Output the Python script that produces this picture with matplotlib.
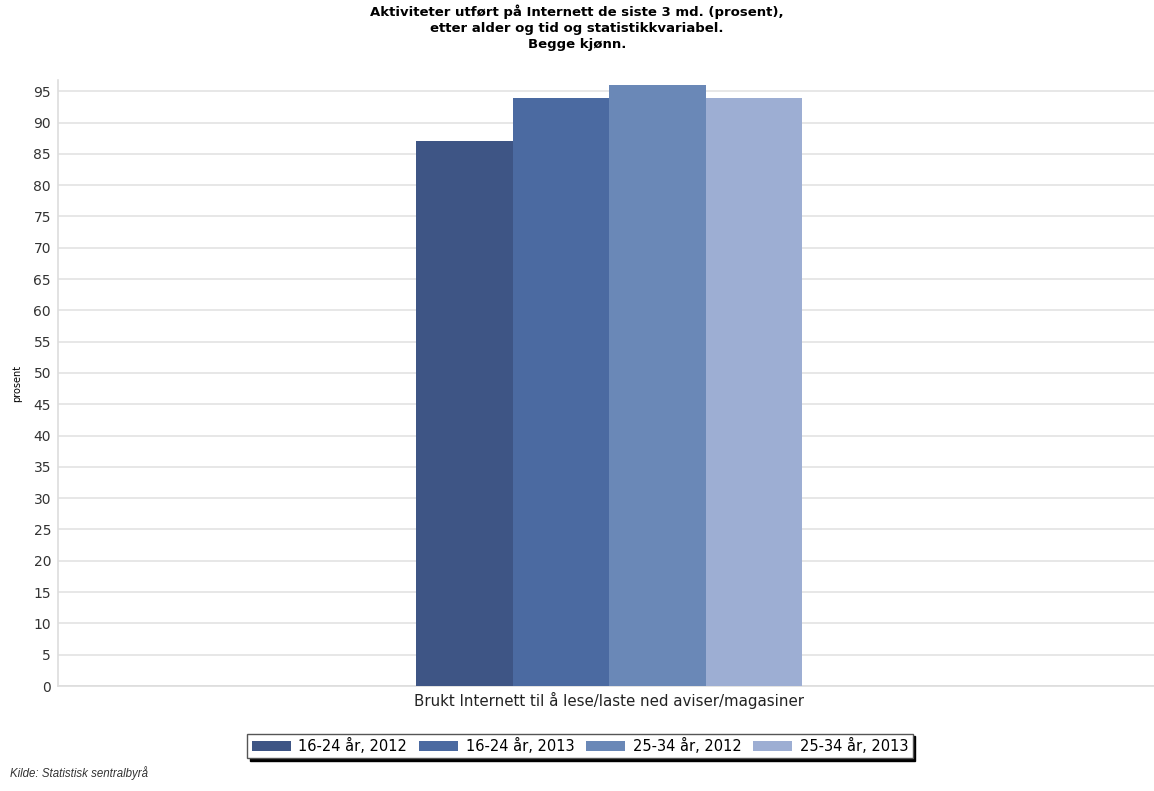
import matplotlib
matplotlib.use("Agg")
import matplotlib.pyplot as plt
import numpy as np

plt.rcParams['font.family'] = ['DejaVu Sans']

category = "Brukt Internett til å lese/laste ned aviser/magasiner"
series = ["16-24 år, 2012", "16-24 år, 2013", "25-34 år, 2012", "25-34 år, 2013"]
values = [87, 94, 96, 94]
colors = ["#3e5585", "#4b6aa1", "#6a88b7", "#9daed3"]
yticks = list(range(0, 100, 5))

fig = plt.figure(figsize=(11.54, 7.91), dpi=100)
ax = fig.add_axes([58/1154, 1 - 686/791, (1154-58)/1154, (686-80)/791])

bw = 0.088
n = len(values)
for i, (s, v, c) in enumerate(zip(series, values, colors)):
    x = (i - (n - 1) / 2) * bw
    ax.bar(x, v, width=bw, color=c, label=s, zorder=3, linewidth=0)

ax.set_xlim(-0.503, 0.497)
ax.set_ylim(0, 96.8)
ax.set_yticks(yticks)
ax.set_xticks([0])
ax.set_xticklabels([category], fontsize=10.8, color="#222222")
ax.tick_params(axis='y', length=0, labelsize=10, colors="#333333", pad=5)
ax.tick_params(axis='x', length=0, pad=4)
ax.grid(axis='y', color="#e3e3e3", linewidth=1.2, zorder=0)
for side in ['top', 'right']:
    ax.spines[side].set_visible(False)
for side in ['left', 'bottom']:
    ax.spines[side].set_color("#dddddd")
    ax.spines[side].set_linewidth(1.2)
ax.set_ylabel("prosent", fontsize=7, labelpad=8)

fig.text(0.5, 1 - 28/791,
         "Aktiviteter utført på Internett de siste 3 md. (prosent),\netter alder og tid og statistikkvariabel.\nBegge kjønn.",
         ha='center', va='center', fontsize=9.5, fontweight='bold', linespacing=1.3)

leg = fig.legend(loc='center', bbox_to_anchor=(580/1154, 1 - 746/791), ncol=4,
                 fontsize=10.5, frameon=True, fancybox=False, shadow={'color': 'black', 'alpha': 1},
                 edgecolor="#555555", handlelength=2.7, handleheight=0.7,
                 columnspacing=0.8, handletextpad=0.5, borderpad=0.3, borderaxespad=0)
leg.get_frame().set_linewidth(1.0)

fig.text(10/1154, 1 - 773/791, "Kilde: Statistisk sentralbyrå", fontsize=8.3, style='italic',
         color="#333333", ha='left', va='center', family='Liberation Sans')

fig.savefig("out.png", dpi=100)
